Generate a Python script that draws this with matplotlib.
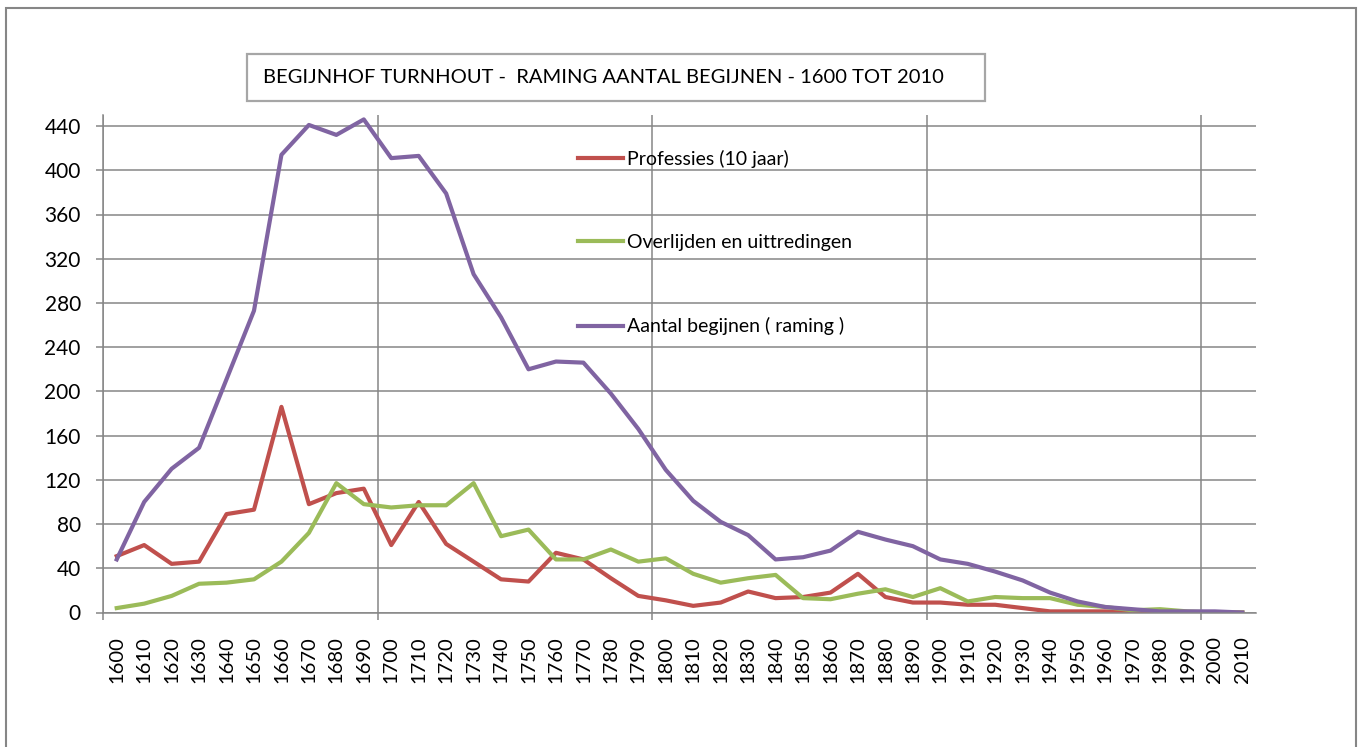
import matplotlib
matplotlib.use("Agg")
import matplotlib.pyplot as plt
from matplotlib.patches import Rectangle

plt.rcParams['font.family'] = ['Lato', 'DejaVu Sans']

# data, one value per decade 1600..2010
jaren = [str(j) for j in range(1600, 2011, 10)]
professies = [51, 61, 44, 46, 89, 93, 186, 98, 108, 112,
              61, 100, 62, 46, 30, 28, 54, 48, 31, 15,
              11, 6, 9, 19, 13, 14, 18, 35, 14, 9,
              9, 7, 7, 4, 1, 1, 1, 0, 0, 0,
              0, 0]
overlijden = [4, 8, 15, 26, 27, 30, 46, 72, 117, 98,
              95, 97, 97, 117, 69, 75, 48, 48, 57, 46,
              49, 35, 27, 31, 34, 13, 12, 17, 21, 14,
              22, 10, 14, 13, 13, 7, 5, 2, 3, 1,
              0, 0]
aantal = [48, 100, 130, 149, 211, 273, 414, 441, 432, 446,
          411, 413, 379, 306, 267, 220, 227, 226, 198, 166,
          129, 101, 82, 70, 48, 50, 56, 73, 66, 60,
          48, 44, 37, 29, 18, 10, 5, 3, 1, 1,
          1, 0]

W, H = 1358, 747
fig = plt.figure(figsize=(W/100, H/100), dpi=100)

grid_col = '#868686'

# outer chart border
fig.patches.append(Rectangle((6/W, -0.05), 1350/W, 1.05 - 8/H, transform=fig.transFigure,
                             fill=False, ec=grid_col, lw=1.5))

ax = fig.add_axes([103/W, 1 - 612.5/H, (1256-103)/W, (612.5-115)/H])

x = list(range(len(jaren)))
ax.plot(x, professies, color='#C0504D', lw=3.0, label='Professies (10 jaar)', solid_joinstyle='round')
ax.plot(x, overlijden, color='#9BBB59', lw=3.0, label='Overlijden en uittredingen', solid_joinstyle='round')
ax.plot(x, aantal, color='#8064A2', lw=3.0, label='Aantal begijnen ( raming )', solid_joinstyle='round')

ax.set_xlim(-0.5, len(jaren) - 0.5)
ax.set_ylim(0, 450)
ax.set_yticks(range(0, 441, 40))

# category labels in the middle, gridlines on the decade-block borders
ax.set_xticks([-0.5, 9.5, 19.5, 29.5, 39.5])
ax.set_xticklabels([])
ax.set_xticks(x, minor=True)
ax.set_xticklabels(jaren, minor=True, rotation=90)
ax.tick_params(axis='x', which='minor', length=0, pad=17, labelsize=14.5)
ax.tick_params(axis='x', which='major', length=5, width=1.1, color=grid_col)
ax.tick_params(axis='y', length=5, width=1.1, color=grid_col, pad=11, labelsize=15)

ax.grid(True, which='major', color=grid_col, lw=1.1)
ax.set_axisbelow(True)
for s in ['top', 'right']:
    ax.spines[s].set_visible(False)
for s in ['left', 'bottom']:
    ax.spines[s].set_color(grid_col)
    ax.spines[s].set_linewidth(1.1)

ax.legend(loc='upper left', bbox_to_anchor=(578/W, 1 - 150/H), bbox_transform=fig.transFigure,
          frameon=False, fontsize=14, handlelength=2.3, handletextpad=0.2,
          labelspacing=3.4, borderpad=0, borderaxespad=0)

# title box
fig.patches.append(Rectangle((247/W, 1 - 101/H), (985-247)/W, 47/H, transform=fig.transFigure,
                             fill=False, ec='#A6A6A6', lw=1.6))
fig.text(263/W, 1 - 77.5/H, 'BEGIJNHOF TURNHOUT -  RAMING AANTAL BEGIJNEN - 1600 TOT 2010',
         fontsize=14.5, va='center', ha='left')

fig.savefig('out.png', dpi=100)
